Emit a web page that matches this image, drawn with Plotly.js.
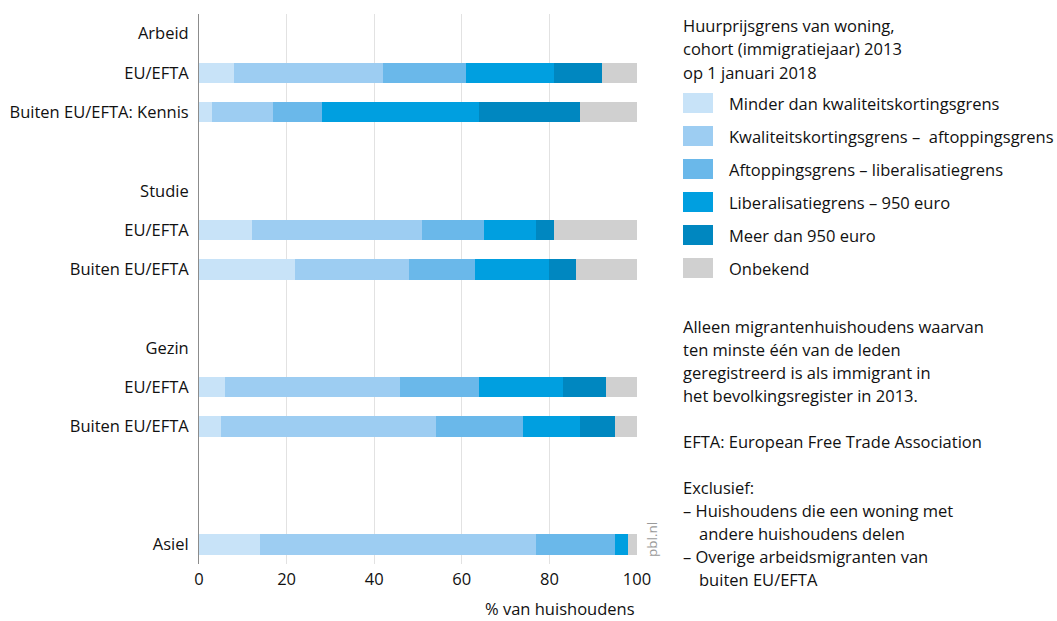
<!DOCTYPE html>
<html>
<head>
<meta charset="utf-8">
<script src="https://cdn.plot.ly/plotly-3.0.1.min.js"></script>
<style>html,body{margin:0;padding:0;background:#fff;}#chart{width:1057px;height:621px;}</style>
</head>
<body>
<div id="chart"></div>
<script>
// Row positions (slot index from top) and labels
const tickPositions = [0, 1, 2, 4, 5, 6, 8, 9, 10, 13];
const tickLabels = ["Arbeid", "EU/EFTA", "Buiten EU/EFTA: Kennis", "Studie", "EU/EFTA", "Buiten EU/EFTA", "Gezin", "EU/EFTA", "Buiten EU/EFTA", "Asiel"];
const barRows = [1, 2, 5, 6, 9, 10, 13];

const seriesNames = [
  "Minder dan kwaliteitskortingsgrens",
  "Kwaliteitskortingsgrens –  aftoppingsgrens",
  "Aftoppingsgrens – liberalisatiegrens",
  "Liberalisatiegrens – 950 euro",
  "Meer dan 950 euro",
  "Onbekend"
];
const seriesColors = ["#c8e3f8", "#9dcdf2", "#6ab8ea", "#009fe0", "#0087c0", "#d0d0d0"];

const minderDan = [8, 3, 12, 22, 6, 5, 14];
const kwaliteitAftopping = [34, 14, 39, 26, 40, 49, 63];
const aftoppingLiberalisatie = [19, 11, 14, 15, 18, 20, 18];
const liberalisatie950 = [20, 36, 12, 17, 19, 13, 3];
const meerDan950 = [11, 23, 4, 6, 10, 8, 0];
const onbekend = [8, 13, 19, 14, 7, 5, 2];
const seriesValues = [minderDan, kwaliteitAftopping, aftoppingLiberalisatie, liberalisatie950, meerDan950, onbekend];

const xTicks = [0, 20, 40, 60, 80, 100];

const legendTitle = ["Huurprijsgrens van woning,", "cohort (immigratiejaar) 2013", "op 1 januari 2018"];
const notes = [
  ["Alleen migrantenhuishoudens waarvan", 0],
  ["ten minste één van de leden", 0],
  ["geregistreerd is als immigrant in", 0],
  ["het bevolkingsregister in 2013.", 0],
  ["", 0],
  ["EFTA: European Free Trade Association", 0],
  ["", 0],
  ["Exclusief:", 0],
  ["– Huishoudens die een woning met", 0],
  ["andere huishoudens delen", 1],
  ["– Overige arbeidsmigranten van", 0],
  ["buiten EU/EFTA", 1]
];

const FONT = "Open Sans, Noto Sans, sans-serif";
const FS = 16.5;
const TXT = "#111111";

// plot-area geometry helpers (pixel -> paper)
const L = 199, R = 637, T = 14, B = 564;
const px = x => (x - L) / (R - L);
const py = y => (B - y) / (B - T);

const traces = seriesValues.map((vals, i) => ({
  type: "bar",
  orientation: "h",
  name: seriesNames[i],
  x: vals,
  y: barRows,
  width: 0.52,
  marker: {color: seriesColors[i], line: {width: 0}},
  showlegend: false,
  hoverinfo: "x+name"
}));

const shapes = [];
const annotations = [];

// legend title
legendTitle.forEach((t, i) => {
  annotations.push({xref: "paper", yref: "paper", x: px(681), y: py(25 + i * 23.5),
    xanchor: "left", yanchor: "middle", text: t, showarrow: false,
    font: {family: FONT, size: FS, color: TXT}});
});
// legend items
seriesNames.forEach((n, i) => {
  const cy = 103 + i * 33;
  shapes.push({type: "rect", xref: "paper", yref: "paper",
    x0: px(683), x1: px(713), y0: py(cy - 10), y1: py(cy + 10),
    fillcolor: seriesColors[i], line: {width: 0}});
  annotations.push({xref: "paper", yref: "paper", x: px(727), y: py(cy),
    xanchor: "left", yanchor: "middle", text: n, showarrow: false,
    font: {family: FONT, size: FS, color: TXT}});
});
// notes
notes.forEach((nt, i) => {
  if (!nt[0]) return;
  annotations.push({xref: "paper", yref: "paper", x: px(nt[1] ? 697 : 681), y: py(326 + i * 23),
    xanchor: "left", yanchor: "middle", text: nt[0], showarrow: false,
    font: {family: FONT, size: FS, color: TXT}});
});
// x-axis title
annotations.push({xref: "paper", yref: "paper", x: 1, y: py(608), xanchor: "right", yanchor: "middle",
  text: "% van huishoudens", showarrow: false, font: {family: FONT, size: FS, color: TXT}});
// source
annotations.push({xref: "paper", yref: "paper", x: px(652), y: py(540), xanchor: "center", yanchor: "middle",
  text: "pbl.nl", textangle: -90, showarrow: false, font: {family: FONT, size: 13.5, color: "#9a9a9a"}});

const layout = {
  width: 1057, height: 621,
  margin: {l: L, r: 1057 - R, t: T, b: 621 - B, pad: 0},
  paper_bgcolor: "#ffffff", plot_bgcolor: "#ffffff",
  barmode: "stack",
  font: {family: FONT, size: FS, color: TXT},
  xaxis: {range: [0, 100], tickvals: xTicks, ticktext: xTicks.map(String),
    showgrid: true, gridcolor: "#e2e2e2", gridwidth: 1, zeroline: false, showline: false,
    ticks: "", ticklabelstandoff: 3, tickfont: {family: FONT, size: FS, color: TXT}, fixedrange: true},
  yaxis: {range: [13.5, -0.5], tickvals: tickPositions, ticktext: tickLabels,
    showgrid: false, zeroline: false, showline: true, linecolor: "#8c8c8c", linewidth: 1,
    ticks: "", ticklabelstandoff: 6, tickfont: {family: FONT, size: FS, color: TXT}, fixedrange: true},
  shapes: shapes,
  annotations: annotations,
  showlegend: false
};

Plotly.newPlot("chart", traces, layout, {displayModeBar: false, staticPlot: true});
</script>
</body>
</html>
